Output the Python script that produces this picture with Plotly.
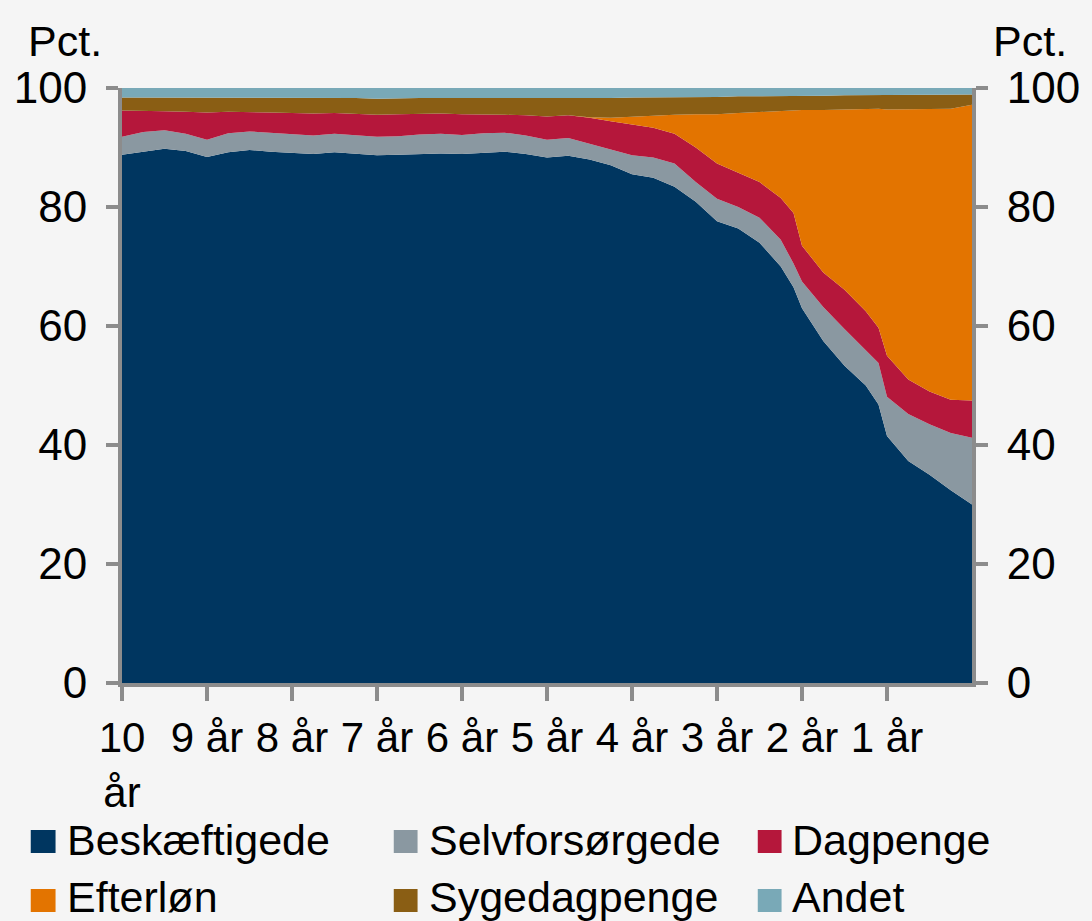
import plotly.graph_objects as go

# Years before retirement (negative = years before)
years = [-10, -9.75, -9.5, -9.25, -9, -8.75, -8.5, -8.25, -8, -7.75, -7.5, -7.25,
         -7, -6.75, -6.5, -6.25, -6, -5.75, -5.5, -5.25, -5, -4.75, -4.5, -4.25,
         -4, -3.75, -3.5, -3.25, -3, -2.75, -2.5, -2.25, -2.1, -2, -1.75, -1.5,
         -1.25, -1.1, -1, -0.75, -0.5, -0.25, 0]

beskaeftigede = [88.8, 89.3, 89.8, 89.4, 88.4, 89.2, 89.6, 89.3, 89.1, 88.9, 89.2, 89.0,
                 88.7, 88.8, 88.9, 89.0, 88.9, 89.1, 89.3, 88.9, 88.3, 88.6, 88.0, 87.0,
                 85.5, 84.9, 83.4, 80.9, 77.6, 76.4, 74.0, 70.0, 66.5, 63.0, 57.5, 53.3,
                 50.0, 46.8, 41.5, 37.3, 35.0, 32.4, 30.0]
selvforsoergede = [3.0, 3.3, 3.1, 2.9, 2.9, 3.2, 3.1, 3.2, 3.1, 3.1, 3.1, 3.1,
                   3.1, 3.1, 3.3, 3.3, 3.2, 3.3, 3.2, 3.1, 3.0, 3.0, 2.6, 2.7,
                   3.2, 3.4, 3.9, 3.3, 3.8, 3.6, 4.2, 4.5, 4.0, 4.5, 5.7, 6.2,
                   6.0, 7.0, 6.6, 7.9, 8.5, 9.6, 11.2]
dagpenge = [4.4, 3.6, 3.2, 3.7, 4.6, 3.6, 3.3, 3.4, 3.6, 3.7, 3.5, 3.6,
            3.7, 3.7, 3.5, 3.4, 3.5, 3.2, 3.0, 3.4, 3.9, 3.8, 4.4, 4.7,
            5.1, 5.0, 5.0, 5.8, 5.9, 5.8, 6.0, 7.0, 8.5, 6.0, 5.8, 6.6,
            6.5, 5.9, 6.9, 5.8, 5.5, 5.6, 6.3]
efterloen = [0, 0, 0, 0, 0, 0, 0, 0, 0, 0, 0, 0,
             0, 0, 0, 0, 0, 0, 0, 0, 0, 0, 0.1, 0.6,
             1.4, 2.1, 3.2, 5.6, 8.3, 10.0, 11.8, 14.7, 17.2, 22.8, 27.3, 30.3,
             34.0, 36.8, 41.4, 45.4, 47.5, 48.9, 49.7]
sygedagpenge = [2.2, 2.2, 2.2, 2.4, 2.4, 2.4, 2.3, 2.4, 2.6, 2.6, 2.5, 2.6,
                2.7, 2.7, 2.6, 2.6, 2.7, 2.7, 2.8, 2.8, 3.1, 2.9, 3.2, 3.3,
                3.2, 3.0, 2.9, 2.9, 2.9, 2.8, 2.6, 2.5, 2.5, 2.4, 2.4, 2.4,
                2.3, 2.3, 2.4, 2.4, 2.4, 2.4, 1.7]
andet = [1.6, 1.6, 1.7, 1.6, 1.7, 1.6, 1.7, 1.7, 1.6, 1.7, 1.7, 1.7,
         1.8, 1.7, 1.7, 1.7, 1.7, 1.7, 1.7, 1.8, 1.7, 1.7, 1.7, 1.7,
         1.6, 1.6, 1.6, 1.5, 1.5, 1.4, 1.4, 1.3, 1.3, 1.3, 1.3, 1.2,
         1.2, 1.2, 1.2, 1.2, 1.1, 1.1, 1.1]

series_names = ["Beskæftigede", "Selvforsørgede", "Dagpenge", "Efterløn", "Sygedagpenge", "Andet"]
series_values = [beskaeftigede, selvforsoergede, dagpenge, efterloen, sygedagpenge, andet]
colors = ["#003660", "#8A98A1", "#B5173B", "#E37400", "#8A5E14", "#79A9B7"]

tick_vals = [-10, -9, -8, -7, -6, -5, -4, -3, -2, -1]
tick_text = ["10<br>år", "9 år", "8 år", "7 år", "6 år", "5 år", "4 år", "3 år", "2 år", "1 år"]
y_ticks = [0, 20, 40, 60, 80, 100]

FONT = "Liberation Sans, Arial, sans-serif"
AXC = "#8C8C8C"
BG = "#F5F5F5"

fig = go.Figure()
for name, vals, col in zip(series_names, series_values, colors):
    fig.add_trace(go.Scatter(
        x=years, y=vals, name=name, mode="lines", stackgroup="one",
        line=dict(width=0, color=col), fillcolor=col, showlegend=False,
    ))
# empty trace bound to the right-hand axis so that it is drawn
fig.add_trace(go.Scatter(x=[], y=[], yaxis="y2", showlegend=False, hoverinfo="skip"))

# plot area in px: x 122..979, y 88..683
W, H = 1092, 921
L, R, T, B = 122, 979, 88, 683
pw, ph = R - L, B - T

def px_x(px):
    return (px - L) / pw

def px_y(py):
    return (B - py) / ph

fig.update_layout(
    width=W, height=H,
    margin=dict(l=L, r=W - R, t=T, b=H - B, pad=0),
    paper_bgcolor=BG, plot_bgcolor=BG,
    font=dict(family=FONT, size=42, color="#000000"),
    showlegend=False,
    xaxis=dict(
        range=[-10, 0], tickmode="array", tickvals=tick_vals, ticktext=tick_text,
        showline=True, linecolor=AXC, linewidth=4, ticks="outside", ticklen=14,
        tickwidth=4, tickcolor=AXC, showgrid=False, zeroline=False,
        tickfont=dict(family=FONT, size=42, color="#000000"), ticklabelstandoff=1,
    ),
    yaxis=dict(
        range=[0, 100], tickmode="array", tickvals=y_ticks,
        showline=True, linecolor=AXC, linewidth=4, ticks="outside", ticklen=12,
        tickwidth=4, tickcolor=AXC, showgrid=False, zeroline=False,
        tickfont=dict(family=FONT, size=44, color="#000000"), ticklabelstandoff=10,
    ),
    yaxis2=dict(
        range=[0, 100], tickmode="array", tickvals=y_ticks, overlaying="y", side="right",
        anchor="x", showline=True, linecolor=AXC, linewidth=4, ticks="outside", ticklen=12,
        tickwidth=4, tickcolor=AXC, showgrid=False, zeroline=False,
        tickfont=dict(family=FONT, size=44, color="#000000"), ticklabelstandoff=10,
    ),
)

annotations = [
    dict(text="Pct.", x=px_x(25), y=px_y(41), xanchor="left", yanchor="middle"),
    dict(text="Pct.", x=px_x(998), y=px_y(41), xanchor="left", yanchor="middle"),
]
# legend (manual, Excel-like)
leg_cols_sq = [(30, 55), (396, 420), (763, 787)]
leg_cols_tx = [65, 430, 795]
leg_rows_sq = [(830, 853), (889, 912)]
leg_rows_tx = [840, 897]
shapes = []
for i, (name, col) in enumerate(zip(series_names, colors)):
    r, c = divmod(i, 3)
    x0, x1 = leg_cols_sq[c]
    y0, y1 = leg_rows_sq[r]
    shapes.append(dict(type="rect", xref="paper", yref="paper",
                       x0=px_x(x0), x1=px_x(x1), y0=px_y(y1), y1=px_y(y0),
                       fillcolor=col, line=dict(width=0)))
    annotations.append(dict(text=name, x=px_x(leg_cols_tx[c]), y=px_y(leg_rows_tx[r]),
                            xanchor="left", yanchor="middle"))

for a in annotations:
    a.update(xref="paper", yref="paper", showarrow=False,
             font=dict(family=FONT, size=43, color="#000000"))
fig.update_layout(annotations=annotations, shapes=shapes)

fig.write_html(
    "out.html",
    config={"displayModeBar": False},
    post_script="document.body.style.margin='0';document.body.style.background='#F5F5F5';"
                "document.body.style.overflow='hidden';",
)
